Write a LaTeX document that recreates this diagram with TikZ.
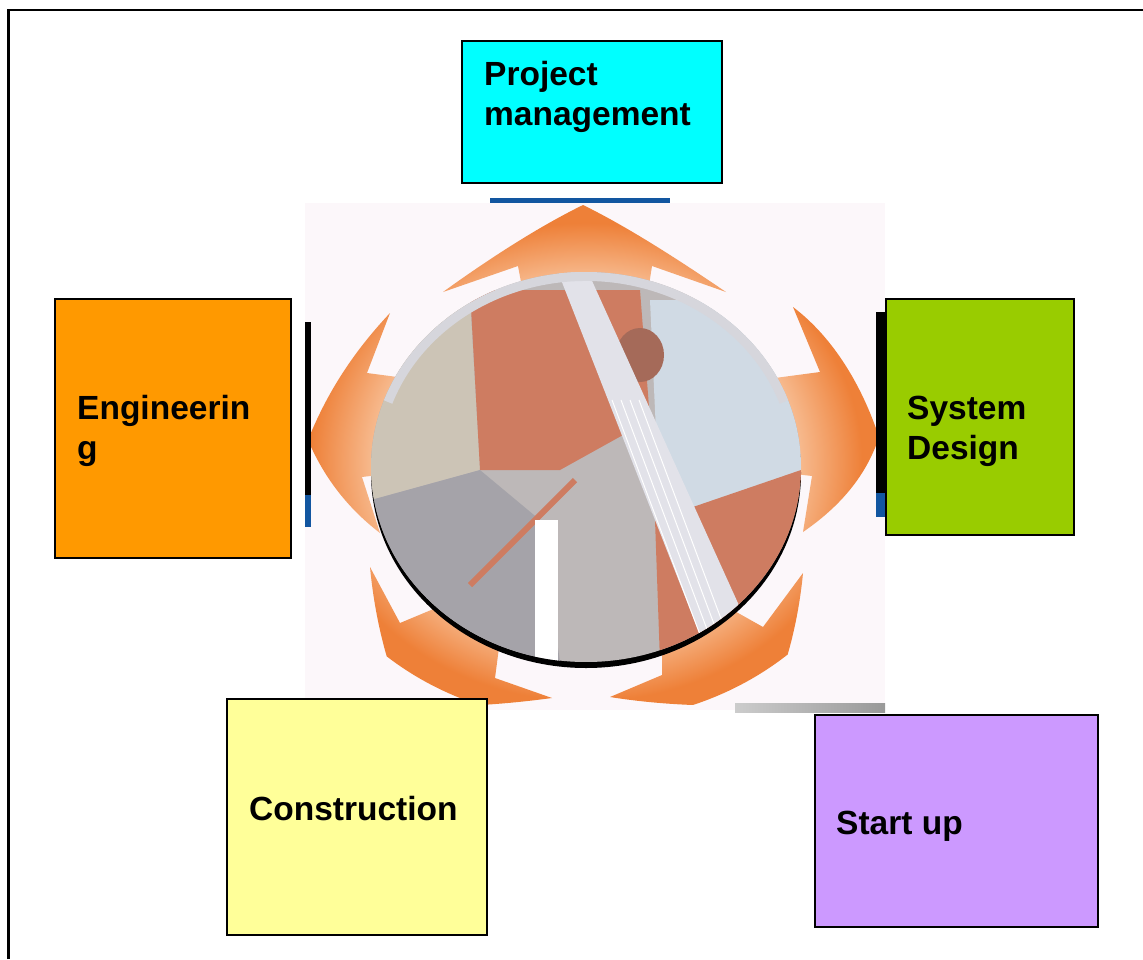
\documentclass[tikz,border=0pt]{standalone}
\usepackage{fontspec}
\setmainfont{Liberation Sans}
\usepackage{xcolor}

\definecolor{pmcyan}{RGB}{0,255,255}
\definecolor{engorange}{RGB}{255,153,0}
\definecolor{sysgreen}{RGB}{153,204,0}
\definecolor{conyellow}{RGB}{255,255,153}
\definecolor{startviolet}{RGB}{204,153,255}
\definecolor{backpink}{RGB}{252,247,250}
\definecolor{arrowdark}{RGB}{238,128,56}
\definecolor{arrowlight}{RGB}{250,206,172}
\definecolor{barblue}{RGB}{18,86,160}
\definecolor{photogray}{RGB}{178,172,172}
\definecolor{sandgray}{RGB}{196,186,170}
\definecolor{rust}{RGB}{198,102,70}
\definecolor{rustdark}{RGB}{150,80,60}
\definecolor{iceblue}{RGB}{200,212,224}
\definecolor{grating}{RGB}{150,148,155}
\definecolor{walkway}{RGB}{222,222,230}
\definecolor{rimgray}{RGB}{214,214,220}
\pgfdeclareradialshading{ringshade}{\pgfpoint{0bp}{0bp}}{color(0bp)=(arrowlight); color(16bp)=(arrowlight); color(23bp)=(arrowdark); color(25bp)=(arrowdark); color(50bp)=(arrowdark)}

\begin{document}
\begin{tikzpicture}[x=1pt,y=-1pt,
  box/.style={draw=black,line width=1.2pt,inner sep=0pt},
  lbl/.style={font=\fontsize{33.5}{40}\selectfont\bfseries,align=left,inner sep=0pt,anchor=base west}]
\useasboundingbox (0,0) rectangle (1143,959);

% page frame
\draw[line width=2.2pt] (8.5,959) -- (8.5,10) -- (1143,10);

% picture background
\fill[backpink] (305,203) rectangle (885,710);

% orange arrow ring
\begin{scope}
  \clip (305,203) rectangle (885,710);
  \clip (443,292) .. controls (490,258) and (540,226) .. (583,205)
        .. controls (626,226) and (676,258) .. (726,292) -- (652,266) -- (642,330) -- (530,330) -- (518,266) -- cycle
        (390,313) .. controls (360,345) and (330,385) .. (308,440)
        .. controls (325,480) and (350,510) .. (380,533) -- (362,477) -- (420,470) -- (420,380) -- (367,373) -- cycle
        (793,307) .. controls (830,335) and (860,380) .. (879,437)
        .. controls (865,480) and (835,510) .. (803,532) -- (812,476) -- (760,470) -- (760,380) -- (820,372) -- cycle
        (370,567) .. controls (375,620) and (388,670) .. (405,705)
        .. controls (450,708) and (500,705) .. (552,698) -- (495,678) -- (500,640) -- (455,600) -- (400,623) -- cycle
        (803,573) .. controls (798,625) and (785,670) .. (770,703)
        .. controls (720,708) and (660,705) .. (610,697) -- (662,675) -- (662,640) -- (715,600) -- (763,627) -- cycle;
  \shade[shading=ringshade] (586,462) ellipse [x radius=300, y radius=260];
\end{scope}

% strips of the photo behind
\fill[barblue] (490,198) rectangle (670,203);
\fill[black] (305,322) rectangle (311,527);
\fill[barblue] (305,495) rectangle (311,527);
\fill[black] (876,312) rectangle (886,517);
\fill[barblue] (876,493) rectangle (886,517);
\shade[left color=gray!40,right color=gray!80] (735,703) rectangle (885,712);

% round photo
\fill[black] (586,473) ellipse [x radius=215, y radius=195];
\begin{scope}
  \clip (586,467) ellipse [x radius=215, y radius=195];
  \fill[photogray] (371,272) rectangle (801,662);
  \fill[sandgray] (371,300) -- (470,300) -- (480,470) -- (371,500) -- cycle;
  \fill[rust] (470,290) -- (640,290) -- (650,420) -- (560,470) -- (480,470) -- cycle;
  \fill[iceblue] (650,300) -- (801,300) -- (801,480) -- (660,520) -- cycle;
  \fill[rustdark] (640,355) ellipse [x radius=24, y radius=27];
  \fill[rust] (655,520) -- (801,470) -- (801,662) -- (660,662) -- cycle;
  \fill[grating] (371,500) -- (480,470) -- (540,520) -- (560,662) -- (371,662) -- cycle;
  \draw[rust,line width=6pt] (470,585) -- (575,480);
  \fill[walkway] (558,272) -- (588,272) -- (742,612) -- (702,640) -- cycle;
  \foreach \d in {0,9,18,27}
    \draw[white,line width=1pt] (612+\d,400) -- (702+\d,640);
  \fill[white] (535,520) rectangle (558,662);
  \fill[white,opacity=0.15] (371,272) rectangle (801,662);
  \draw[rimgray,line width=18pt] (586,467) ++(200:215 and 195)
    arc [start angle=200,end angle=340,x radius=215,y radius=195];
\end{scope}

% the five boxes
\node[box,fill=pmcyan,minimum width=260,minimum height=142] (pm) at (592,112) {};
\node[box,fill=engorange,minimum width=236,minimum height=259] (eng) at (173,428.5) {};
\node[box,fill=sysgreen,minimum width=188,minimum height=236] (sys) at (980,417) {};
\node[box,fill=conyellow,minimum width=260,minimum height=236] (con) at (357,817) {};
\node[box,fill=startviolet,minimum width=283,minimum height=212] (start) at (956.5,821) {};

\node[lbl] (pmtext) at (484,125) {Project\\management};
\node[lbl] (engtext) at (77,459) {Engineerin\\g};
\node[lbl] (systext) at (907,459) {System\\Design};
\node[lbl] (context) at (249,820) {Construction};
\node[lbl] (starttext) at (836,834) {Start up};
\end{tikzpicture}
\end{document}
